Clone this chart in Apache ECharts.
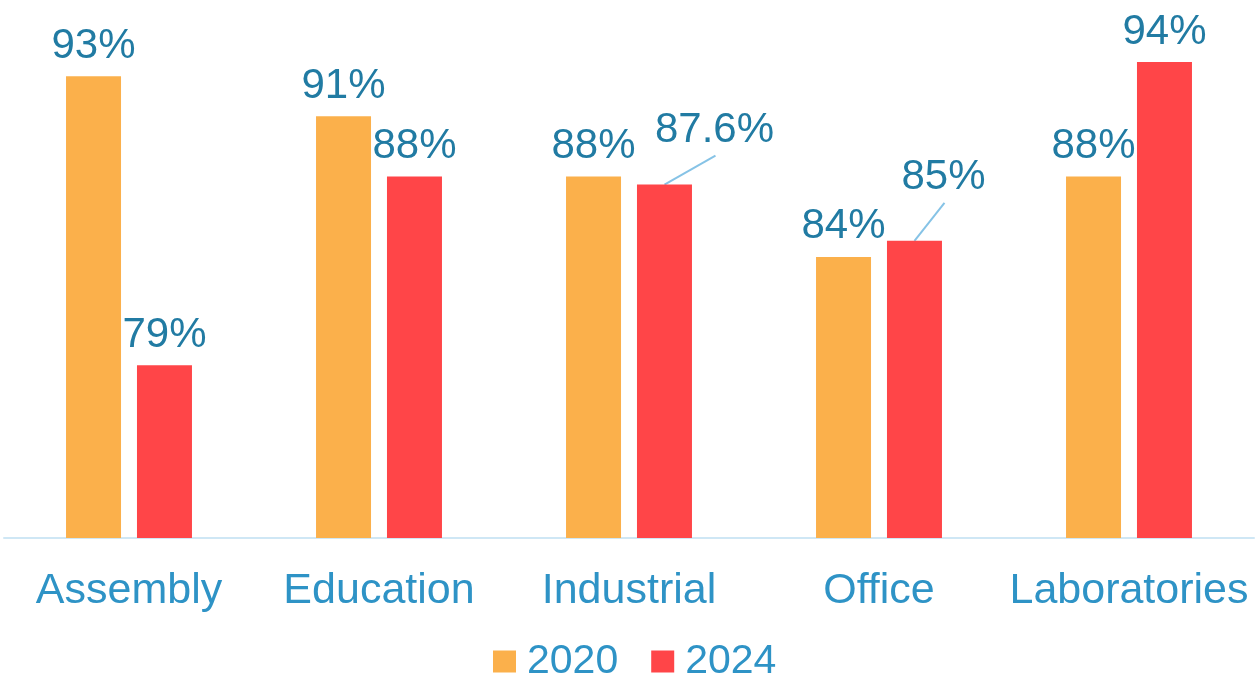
<!DOCTYPE html>
<html>
<head>
<meta charset="utf-8">
<script src="https://cdn.jsdelivr.net/npm/echarts@6/dist/echarts.min.js"></script>
<style>
  html, body { margin: 0; padding: 0; background: #fff; }
  #chart { width: 1255px; height: 676px; }
</style>
</head>
<body>
<div id="chart"></div>
<script>
const categories = ['Assembly', 'Education', 'Industrial', 'Office', 'Laboratories']
const seriesNames = ['2020', '2024']
const values2020 = [93, 91, 88, 84, 88]
const values2024 = [78.6, 88, 87.6, 84.8, 93.7]
const labels2020 = ['93%', '91%', '88%', '84%', '88%']
const labels2024 = ['79%', '88%', '87.6%', '85%', '94%']

const orange = '#FBB04B'
const red = '#FF4548'
const labelColor = '#217BA3'
const axisColor = '#2E93C6'
const font = 'Liberation Sans, Arial, sans-serif'

const chart = echarts.init(document.getElementById('chart'))

const dataLabel = (texts) => ({
  show: true,
  position: 'top',
  distance: 9,
  fontFamily: font,
  fontSize: 42,
  color: labelColor,
  formatter: (p) => texts[p.dataIndex]
})

// labels pushed up and right, with a leader line (Industrial / Office 2024)
const shifted = { 2: { dx: 50, dy: -24, lx: 51, ly: -29 }, 3: { dx: 29, dy: -33, lx: 30, ly: -38 } }

chart.setOption({
  animation: false,
  grid: { left: 4, right: 1, top: 36, bottom: 138 },
  legend: {
    bottom: -6,
    left: 493,
    padding: 0,
    itemWidth: 23,
    itemHeight: 22,
    itemGap: 33,
    icon: 'rect',
    textStyle: { fontFamily: font, fontSize: 41, color: axisColor, padding: [0, 0, 0, 6] },
    data: seriesNames
  },
  xAxis: {
    type: 'category',
    data: categories,
    axisLine: { lineStyle: { color: '#CFE7F5', width: 2 } },
    axisTick: { show: false },
    axisLabel: { fontFamily: font, fontSize: 43, color: axisColor, margin: 32, interval: 0 }
  },
  yAxis: {
    type: 'value',
    min: 70,
    max: 95,
    show: false,
    splitLine: { show: false }
  },
  series: [
    {
      name: seriesNames[0],
      type: 'bar',
      data: values2020,
      barWidth: 55,
      barGap: '29%',
      itemStyle: { color: orange },
      label: dataLabel(labels2020)
    },
    {
      name: seriesNames[1],
      type: 'bar',
      data: values2024,
      barWidth: 55,
      barGap: '29%',
      itemStyle: { color: red },
      label: dataLabel(labels2024),
      labelLayout: (p) => shifted[p.dataIndex] ? { dx: shifted[p.dataIndex].dx, dy: shifted[p.dataIndex].dy } : {}
    }
  ]
})

// leader lines from the top centre of the bar, taken from the bar layout
const barData = chart.getModel().getSeriesByIndex(1).getData()
const leaders = Object.keys(shifted).map((i) => {
  const r = barData.getItemLayout(+i)
  const x = r.x + r.width / 2
  const y = Math.min(r.y, r.y + r.height)
  const s = shifted[i]
  return {
    type: 'line',
    silent: true,
    shape: { x1: x, y1: y, x2: x + s.lx, y2: y + s.ly },
    style: { stroke: '#86C3E6', lineWidth: 2 }
  }
})
chart.setOption({ graphic: leaders })
</script>
</body>
</html>
